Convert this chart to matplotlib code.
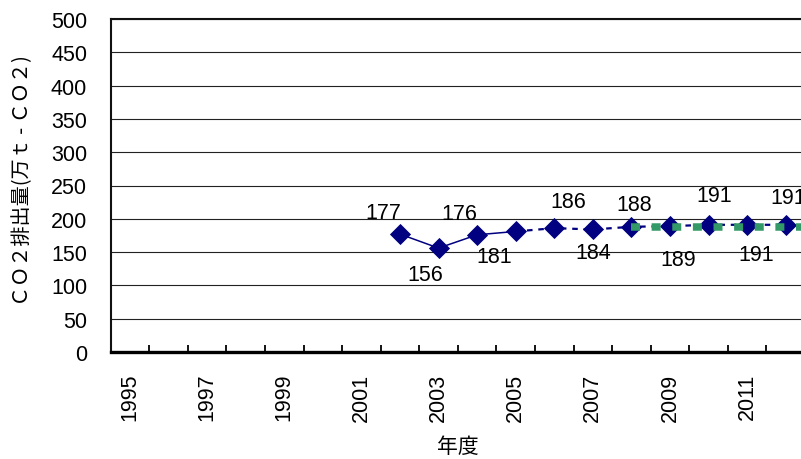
import matplotlib
matplotlib.use("Agg")
import matplotlib.pyplot as plt
import numpy as np

# ---- data ----
years = [1995, 1996, 1997, 1998, 1999, 2000, 2001, 2002, 2003,
         2004, 2005, 2006, 2007, 2008, 2009, 2010, 2011, 2012]
emission_years = [2002, 2003, 2004, 2005, 2006, 2007, 2008, 2009, 2010, 2011, 2012]
emissions = [177, 156, 176, 181, 186, 184, 188, 189, 191, 191, 191]
actual_end_year = 2005          # solid line up to here, dotted afterwards
target_start_year = 2008
target_value = 187
tick_label_years = [1995, 1997, 1999, 2001, 2003, 2005, 2007, 2009, 2011]
y_ticks = [0, 50, 100, 150, 200, 250, 300, 350, 400, 450, 500]

# label offsets (pixels) for each data label, manual placement as in the original
label_offsets = [(-17, 22), (-13, -26), (-18, 21), (-22, -25), (14, 27), (0, -23),
                 (3, 22), (8, -33), (6, 29), (9, -30), (2, 27)]

W, H = 801, 460
fig = plt.figure(figsize=(W / 100, H / 100), dpi=100)
ax_left, ax_right, ax_top, ax_bot = 110.7, 805.0, 20.0, 353.0
ax = fig.add_axes([ax_left / W, 1 - ax_bot / H, (ax_right - ax_left) / W, (ax_bot - ax_top) / H])

pos = {y: i for i, y in enumerate(years)}
xs = np.array([pos[y] for y in emission_years], dtype=float)
ys = np.array(emissions, dtype=float)

FS = 15.5
navy = "#000080"
split = emission_years.index(actual_end_year)
ax.plot(xs[:split + 1], ys[:split + 1], color=navy, lw=1.1, zorder=3)
ax.plot(xs[split:], ys[split:], color=navy, lw=1.6, linestyle=(0, (2.5, 2.6)), zorder=3)
ax.plot(xs, ys, linestyle="none", marker="D", markersize=9.8, color=navy,
        markeredgecolor=navy, markeredgewidth=0.6, zorder=4)

# target line (2008 onwards to right edge)
tx = [pos[target_start_year], len(years) - 0.5]
ax.plot(tx, [target_value, target_value], color="#339966", lw=5.4,
        linestyle=(0, (1.2, 1.55)), solid_capstyle="butt", dash_capstyle="butt", zorder=5)

for x, y, v, (dx, dy) in zip(xs, ys, emissions, label_offsets):
    ax.annotate(str(v), (x, y), xytext=(dx, dy), textcoords="offset pixels",
                ha="center", va="center", fontsize=FS, family="Liberation Sans",
                color="black", zorder=6)

ax.set_xlim(-0.5, len(years) - 0.5)
ax.set_ylim(0, 500)
ax.set_yticks(y_ticks)
ax.set_yticklabels([str(v) for v in y_ticks], fontsize=FS, family="Liberation Sans")
ax.tick_params(axis="y", length=0, pad=17)
ax.yaxis.grid(True, color="#222222", lw=0.8)
ax.set_axisbelow(True)

ax.set_xticks([pos[y] for y in tick_label_years])
ax.set_xticklabels([str(y) for y in tick_label_years], rotation=90, fontsize=FS,
                   family="Liberation Sans", va="top", ha="center")
ax.tick_params(axis="x", which="major", length=0, pad=15)
ax.set_xticks(np.arange(-0.5, len(years), 1.0), minor=True)
ax.tick_params(axis="x", which="minor", direction="in", length=5, width=1.3, color="black")

ax.spines["right"].set_visible(False)
ax.spines["top"].set_linewidth(1.5)
ax.spines["top"].set_color("#111111")
ax.spines["left"].set_linewidth(1.5)
ax.spines["left"].set_color("#111111")
ax.spines["bottom"].set_linewidth(2.4)
ax.spines["bottom"].set_color("black")

ax.set_xlabel("年度", fontsize=15, family=["Noto Sans CJK JP", "DejaVu Sans"])
ax.xaxis.set_label_coords(0.5, (ax_bot - 447) / (ax_bot - ax_top))
ax.xaxis.label.set_va("center")
ax.set_ylabel("ＣＯ２排出量(万ｔ - ＣＯ２)", fontsize=14.5,
              family=["Noto Sans CJK JP", "DejaVu Sans"])
ax.yaxis.set_label_coords((23 - ax_left) / (ax_right - ax_left), (ax_bot - 181) / (ax_bot - ax_top))
ax.yaxis.label.set_va("center")
ax.yaxis.label.set_ha("center")

fig.savefig("out.png", dpi=100)
